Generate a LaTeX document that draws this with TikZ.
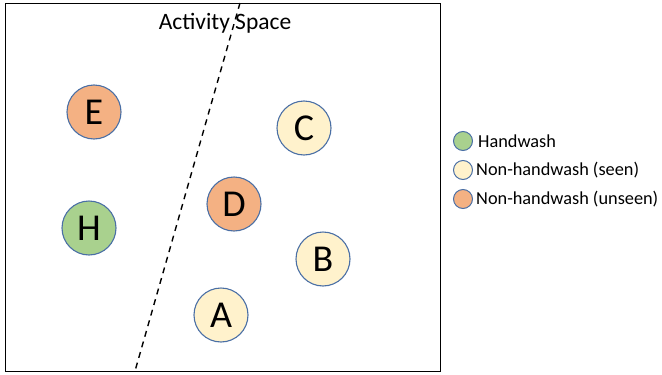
\documentclass[tikz,border=0pt]{standalone}
\usepackage{fontspec}
\setmainfont{Carlito}
\definecolor{orng}{HTML}{F4B183}
\definecolor{grn}{HTML}{A9D18E}
\definecolor{crm}{HTML}{FFF2CC}
\definecolor{rim}{HTML}{4A6FA5}
\begin{document}
\begin{tikzpicture}[x=1pt,y=-1pt,
  ball/.style={circle,draw=rim,line width=1.1pt,minimum size=54pt,inner sep=0pt,font=\fontsize{38}{38}\selectfont},
  key/.style={circle,draw=rim,line width=1pt,minimum size=19pt,inner sep=0pt},
  keytext/.style={anchor=west,font=\fontsize{18.3}{20}\selectfont,inner sep=0pt}]
\useasboundingbox (0,0) rectangle (662,375);
\node[draw,line width=1.4pt,minimum width=435pt,minimum height=368pt,inner sep=0pt,anchor=north west] (frame) at (5,3) {};
\coordinate (ltop) at (240,3);
\coordinate (lbot) at (135,371);
\draw[dashed,line width=1.4pt,dash pattern=on 6pt off 5pt] (ltop) -- (lbot);
\node[font=\fontsize{23.5}{25}\selectfont] (title) at (225,23) {Activity Space};
\node[ball,fill=orng] (E) at (94,112) {E};
\node[ball,fill=grn] (H) at (89,228) {H};
\node[ball,fill=crm] (C) at (304,128) {C};
\node[ball,fill=orng] (D) at (234,204) {D};
\node[ball,fill=crm] (B) at (323,259) {B};
\node[ball,fill=crm] (A) at (221,315) {A};
\node[key,fill=grn] (k1) at (463,141) {};
\node[key,fill=crm] (k2) at (463,170) {};
\node[key,fill=orng] (k3) at (463,199) {};
\node[keytext] (t1) at (478,141) {Handwash};
\node[keytext] (t2) at (476,170) {Non-handwash (seen)};
\node[keytext] (t3) at (476,199) {Non-handwash (unseen)};
\end{tikzpicture}
\end{document}
